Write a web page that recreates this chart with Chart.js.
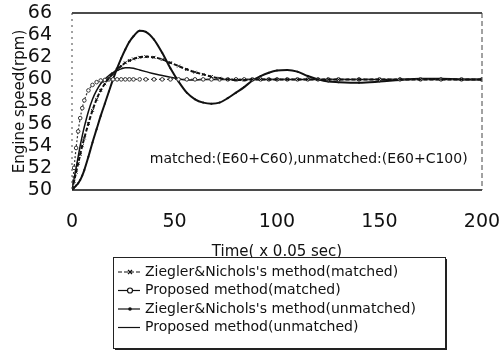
<!DOCTYPE html>
<html>
<head>
<meta charset="utf-8">
<script src="https://cdn.jsdelivr.net/npm/chart.js@4/dist/chart.umd.min.js"></script>
<style>
  html, body { margin: 0; padding: 0; background: #fff; }
</style>
</head>
<body>
<canvas id="chart" width="502" height="358"></canvas>
<script>
// time steps (x 0.05 sec)
const time = [0, 1, 2, 3, 4, 5, 6, 8, 10, 12, 14, 16, 18, 20, 22, 24, 26, 28, 30, 33, 36,
  40, 44, 48, 52, 56, 60, 64, 68, 72, 76, 80, 84, 88, 92, 96, 100,
  105, 110, 115, 120, 125, 130, 140, 150, 160, 170, 180, 190, 200];

// engine speed (rpm)
const znMatched = [50, 50.8, 51.6, 52.4, 53.2, 54.0, 54.7, 56.0, 57.2, 58.2, 59.0, 59.6, 60.1, 60.5, 60.9, 61.2, 61.5, 61.7, 61.85, 62.0, 62.05,
  62.0, 61.8, 61.5, 61.2, 60.9, 60.65, 60.45, 60.25, 60.1, 60.0, 59.95, 59.95, 60.0, 60.0, 60.0, 60.0,
  60, 60, 60, 60, 60, 60, 60, 60, 60, 60, 60, 60, 60];
const propMatched = [50, 52.0, 53.8, 55.3, 56.5, 57.4, 58.1, 59.0, 59.5, 59.75, 59.9, 59.95, 60.0, 60, 60, 60, 60, 60, 60, 60, 60,
  60, 60, 60, 60, 60, 60, 60, 60, 60, 60, 60, 60, 60, 60, 60, 60,
  60, 60, 60, 60, 60, 60, 60, 60, 60, 60, 60, 60, 60];
const znUnmatched = [50, 50.2, 50.4, 50.6, 50.9, 51.3, 51.8, 53.0, 54.3, 55.5, 56.7, 57.8, 58.9, 60.0, 61.0, 61.9, 62.7, 63.4, 63.9, 64.4, 64.3,
  63.6, 62.4, 61.0, 59.8, 58.8, 58.2, 57.9, 57.8, 57.9, 58.3, 58.8, 59.3, 59.9, 60.3, 60.6, 60.8,
  60.85, 60.7, 60.3, 60.0, 59.8, 59.75, 59.7, 59.8, 59.95, 60.05, 60.05, 60.0, 60.0];
const propUnmatched = [50, 51.0, 52.0, 53.0, 54.0, 54.9, 55.7, 57.1, 58.2, 59.0, 59.6, 60.0, 60.35, 60.6, 60.8, 60.95, 61.05, 61.05, 61.0, 60.85, 60.7,
  60.5, 60.35, 60.2, 60.05, 59.95, 59.95, 60.0, 60, 60, 60, 60, 60, 60, 60, 60, 60,
  60, 60, 60, 60, 60, 60, 60, 60, 60, 60, 60, 60, 60];

const seriesNames = [
  "Ziegler&Nichols's method(matched)",
  'Proposed method(matched)',
  "Ziegler&Nichols's method(unmatched)",
  'Proposed method(unmatched)'
];
const note = 'matched:(E60+C60),unmatched:(E60+C100)';
const xTicks = [0, 50, 100, 150, 200];
const yTicks = [50, 52, 54, 56, 58, 60, 62, 64, 66];

const FONT = '"DejaVu Sans", "Liberation Sans", Arial, sans-serif';
const pts = vals => time.map((t, i) => ({ x: t, y: vals[i] }));

// box round the plot: solid top/bottom, broken left/right
const framePlugin = {
  id: 'frame',
  afterDatasetsDraw(chart) {
    const { ctx, chartArea: a } = chart;
    ctx.save();
    ctx.strokeStyle = '#111';
    ctx.lineWidth = 1.5;
    ctx.beginPath();
    ctx.moveTo(a.left, a.top); ctx.lineTo(a.right, a.top);
    ctx.moveTo(a.left, a.bottom); ctx.lineTo(a.right, a.bottom);
    ctx.stroke();
    ctx.lineWidth = 1;
    ctx.strokeStyle = '#444';
    ctx.setLineDash([5, 3]);
    ctx.beginPath();
    ctx.moveTo(a.right, a.top); ctx.lineTo(a.right, a.bottom);
    ctx.stroke();
    ctx.setLineDash([2, 4]);
    ctx.beginPath();
    ctx.moveTo(a.left, a.top); ctx.lineTo(a.left, a.bottom);
    ctx.stroke();
    ctx.restore();
  }
};

// condition text inside the plot
const notePlugin = {
  id: 'note',
  afterDatasetsDraw(chart) {
    const { ctx, scales } = chart;
    ctx.save();
    ctx.font = '14px ' + FONT;
    ctx.fillStyle = '#111';
    ctx.textAlign = 'right';
    ctx.textBaseline = 'middle';
    ctx.fillText(note, scales.x.getPixelForValue(193), scales.y.getPixelForValue(52.8));
    ctx.restore();
  }
};

// boxed legend under the axis title
const boxLegend = {
  id: 'boxLegend',
  afterDraw(chart) {
    const ctx = chart.ctx;
    const left = 113, top = 257, w = 332, h = 91, row = 18.5;
    ctx.save();
    ctx.fillStyle = '#fff';
    ctx.fillRect(left, top, w, h);
    ctx.strokeStyle = '#222';
    ctx.lineWidth = 1;
    ctx.strokeRect(left + 0.5, top + 0.5, w, h);
    ctx.lineWidth = 2;
    ctx.beginPath();
    ctx.moveTo(left + w + 1, top + 2); ctx.lineTo(left + w + 1, top + h + 1); ctx.lineTo(left + 2, top + h + 1);
    ctx.stroke();
    ctx.font = '14px ' + FONT;
    ctx.textBaseline = 'middle';
    chart.data.datasets.forEach((ds, i) => {
      const y = top + 15 + i * row;
      ctx.strokeStyle = '#111';
      ctx.lineWidth = 1.2;
      ctx.setLineDash(i === 0 ? [4, 2] : []);
      ctx.beginPath();
      ctx.moveTo(left + 5, y); ctx.lineTo(left + 27, y);
      ctx.stroke();
      ctx.setLineDash([]);
      const mx = left + 17;
      if (i === 1) {
        ctx.beginPath(); ctx.arc(mx, y, 2.5, 0, Math.PI * 2);
        ctx.fillStyle = '#fff'; ctx.fill(); ctx.stroke();
      } else if (i === 0) {
        ctx.beginPath(); ctx.moveTo(mx - 2, y - 2); ctx.lineTo(mx + 2, y + 2);
        ctx.moveTo(mx + 2, y - 2); ctx.lineTo(mx - 2, y + 2); ctx.stroke();
      } else if (i === 2) {
        ctx.beginPath(); ctx.arc(mx, y, 1.8, 0, Math.PI * 2);
        ctx.fillStyle = '#111'; ctx.fill();
      }
      ctx.fillStyle = '#111';
      ctx.fillText(ds.label, left + 32, y);
    });
    ctx.restore();
  }
};

new Chart(document.getElementById('chart'), {
  type: 'line',
  data: {
    datasets: [
      { label: seriesNames[0], data: pts(znMatched), borderColor: '#111', borderWidth: 2, borderDash: [4, 2],
        pointStyle: 'crossRot', pointRadius: 2, pointBorderColor: '#111', pointBorderWidth: 1 },
      { label: seriesNames[1], data: pts(propMatched), borderColor: '#333', borderWidth: 1.2, borderDash: [2, 2],
        pointStyle: 'circle', pointRadius: 1.8, pointBackgroundColor: '#fff', pointBorderColor: '#333', pointBorderWidth: 1 },
      { label: seriesNames[2], data: pts(znUnmatched), borderColor: '#111', borderWidth: 2,
        pointStyle: 'circle', pointRadius: 1, pointBackgroundColor: '#111', pointBorderWidth: 0 },
      { label: seriesNames[3], data: pts(propUnmatched), borderColor: '#111', borderWidth: 1.5, pointRadius: 0 }
    ]
  },
  options: {
    responsive: false,
    animation: false,
    devicePixelRatio: 1,
    layout: { padding: { left: 0, right: 20, top: 13, bottom: 97 } },
    elements: { line: { cubicInterpolationMode: 'monotone', fill: false } },
    plugins: { legend: { display: false }, tooltip: { enabled: false } },
    scales: {
      x: {
        type: 'linear', min: 0, max: 200,
        afterBuildTicks: s => { s.ticks = xTicks.map(v => ({ value: v })); },
        afterFit: s => { s.height = 71; s.paddingLeft = 0; s.paddingRight = 0; },
        grid: { display: false },
        border: { display: false },
        ticks: { color: '#111', font: { family: FONT, size: 19 }, padding: 13, maxRotation: 0, autoSkip: false },
        title: { display: true, text: 'Time( x 0.05 sec)', color: '#111', font: { family: FONT, size: 15 }, padding: 0 }
      },
      y: {
        min: 50, max: 66,
        afterBuildTicks: s => { s.ticks = yTicks.map(v => ({ value: v })); },
        afterFit: s => { s.width = 72; s.paddingTop = 0; s.paddingBottom = 0; },
        grid: { display: false },
        border: { display: false },
        ticks: { color: '#111', font: { family: FONT, size: 19 }, padding: 12, autoSkip: false },
        title: { display: true, text: 'Engine speed(rpm)', color: '#111', font: { family: FONT, size: 15 }, padding: { top: 11, bottom: 0 } }
      }
    }
  },
  plugins: [framePlugin, notePlugin, boxLegend]
});
</script>
</body>
</html>
